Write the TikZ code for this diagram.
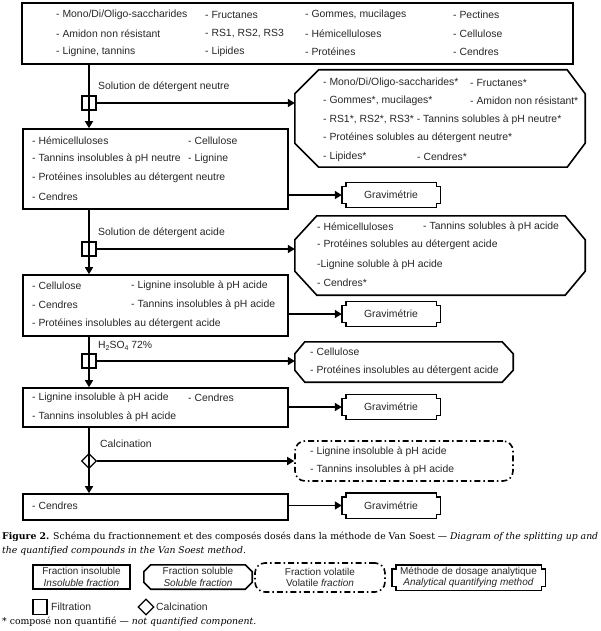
\documentclass[tikz,border=0pt]{standalone}
\usepackage{fontspec}
\setmainfont{Liberation Sans}
\newfontfamily\capfont{DejaVu Serif}
\usetikzlibrary{shapes.geometric,arrows.meta,calc}
\newcommand\octpath[4]{%
 \draw[line width=1.6pt] ([xshift=#2]#1.north west) -- ([xshift=-#3]#1.north east) -- ([yshift=-#4]#1.north east) -- ([yshift=#4]#1.south east) -- ([xshift=-#3]#1.south east) -- ([xshift=#2]#1.south west) -- ([yshift=#4]#1.south west) -- ([yshift=-#4]#1.north west) -- cycle;}
\newcommand\notchpath[1]{%
 \draw[line width=1.4pt] ([xshift=4pt]#1.north west) -- ([xshift=-4pt]#1.north east) -- ([shift={(-4pt,-4pt)}]#1.north east) -- ([yshift=-4pt]#1.north east) -- ([yshift=4pt]#1.south east) -- ([shift={(-4pt,4pt)}]#1.south east) -- ([xshift=-4pt]#1.south east) -- ([xshift=4pt]#1.south west) -- ([shift={(4pt,4pt)}]#1.south west) -- ([yshift=4pt]#1.south west) -- ([yshift=-4pt]#1.north west) -- ([shift={(4pt,-4pt)}]#1.north west) -- cycle;}
\tikzset{
 tx/.style={anchor=west, inner sep=0pt, text=black!85, font=\fontsize{10.4}{12}\selectfont},
 frac/.style={draw, line width=1.6pt, rectangle, inner sep=0pt},
 ghost/.style={rectangle, inner sep=0pt, draw=none},
 grav/.style={ghost, minimum width=98pt, minimum height=25pt, text=black!85, font=\fontsize{10.4}{12}\selectfont},
 arr/.style={line width=1.6pt, -{Triangle[length=7pt,width=8pt]}},
 filt/.style={draw, line width=1.2pt, rectangle, minimum width=14pt, minimum height=14pt, inner sep=0pt},
 calcin/.style={draw, diamond, line width=1.2pt, minimum width=15pt, minimum height=15pt, inner sep=0pt},
 volat/.style={draw, line width=1.6pt, rounded corners=10pt, dash pattern=on 6pt off 3pt on 1.5pt off 3pt, inner sep=0pt},
 leg/.style={align=center, text=black!85, font=\fontsize{10}{11.5}\selectfont},
 captxt/.style={anchor=west, inner sep=0pt, font=\capfont\fontsize{9.3}{11}\selectfont},
}
\begin{document}
\begin{tikzpicture}[x=1pt,y=-1pt]
\useasboundingbox (0,0) rectangle (600,631);
% main boxes
\node[frac, minimum width=551pt, minimum height=61pt] (b0) at (297.5,33.5) {};
\node[frac, minimum width=265pt, minimum height=80pt] (b1) at (155.5,169) {};
\node[frac, minimum width=265pt, minimum height=61pt] (b2) at (155.5,305.5) {};
\node[frac, minimum width=265pt, minimum height=39pt] (b3) at (155.5,407.5) {};
\node[frac, minimum width=265pt, minimum height=26pt] (b4) at (155.5,507) {};
% top box text
\node[tx] (t01) at (56,15) {- Mono/Di/Oligo-saccharides};
\node[tx] (t02) at (205,15) {- Fructanes};
\node[tx] (t03) at (305,15) {- Gommes, mucilages};
\node[tx] (t04) at (453,15) {- Pectines};
\node[tx] (t05) at (56,34) {- Amidon non résistant};
\node[tx] (t06) at (205,34) {- RS1, RS2, RS3};
\node[tx] (t07) at (305,34) {- Hémicelluloses};
\node[tx] (t08) at (453,34) {- Cellulose};
\node[tx] (t09) at (56,52) {- Lignine, tannins};
\node[tx] (t10) at (205,52) {- Lipides};
\node[tx] (t11) at (305,52) {- Protéines};
\node[tx] (t12) at (453,52) {- Cendres};
% box 1 text
\node[tx] (t13) at (32,141) {- Hémicelluloses};
\node[tx] (t14) at (188,141) {- Cellulose};
\node[tx] (t15) at (32,159) {- Tannins insolubles à pH neutre};
\node[tx] (t16) at (188,159) {- Lignine};
\node[tx] (t17) at (32,178) {- Protéines insolubles au détergent neutre};
\node[tx] (t18) at (32,197) {- Cendres};
% box 2 text
\node[tx] (t19) at (32,286) {- Cellulose};
\node[tx] (t20) at (131,286) {- Lignine insoluble à pH acide};
\node[tx] (t21) at (32,305) {- Cendres};
\node[tx] (t22) at (131,305) {- Tannins insolubles à pH acide};
\node[tx] (t23) at (32,324) {- Protéines insolubles au détergent acide};
% box 3 text
\node[tx] (t24) at (32,398) {- Lignine insoluble à pH acide};
\node[tx] (t25) at (188,398) {- Cendres};
\node[tx] (t26) at (32,417) {- Tannins insolubles à pH acide};
% box 4 text
\node[tx] (t27) at (32,506) {- Cendres};
% octagons
\node[ghost, minimum width=290pt, minimum height=97pt] (o1) at (440,118.5) {};
\octpath{o1}{24pt}{18pt}{24pt}
\node[tx] (t28) at (323,83) {- Mono/Di/Oligo-saccharides*};
\node[tx] (t29) at (470,83) {- Fructanes*};
\node[tx] (t30) at (323,101) {- Gommes*, mucilages*};
\node[tx] (t31) at (470,101) {- Amidon non résistant*};
\node[tx] (t32) at (323,120) {- RS1*, RS2*, RS3* - Tannins solubles à pH neutre*};
\node[tx] (t33) at (323,138) {- Protéines solubles au détergent neutre*};
\node[tx] (t34) at (323,157) {- Lipides*};
\node[tx] (t35) at (417,157) {- Cendres*};
\node[ghost, minimum width=290pt, minimum height=79pt] (o2) at (440,255.5) {};
\octpath{o2}{22pt}{20pt}{24pt}
\node[tx] (t36) at (317,227) {- Hémicelluloses};
\node[tx] (t37) at (423,227) {- Tannins solubles à pH acide};
\node[tx] (t38) at (317,245) {- Protéines solubles au détergent acide};
\node[tx] (t39) at (317,265) {-Lignine soluble à pH acide};
\node[tx] (t40) at (317,283) {- Cendres*};
\node[ghost, minimum width=218pt, minimum height=40pt] (o3) at (404,362) {};
\octpath{o3}{10pt}{11pt}{12pt}
\node[tx] (t41) at (310,352) {- Cellulose};
\node[tx] (t42) at (310,371) {- Protéines insolubles au détergent acide};
\node[volat, minimum width=218pt, minimum height=40pt] (v1) at (404,461) {};
\node[tx] (t43) at (310,452) {- Lignine insoluble à pH acide};
\node[tx] (t44) at (310,470) {- Tannins insolubles à pH acide};
% gravimetrie
\node[grav] (g1) at (391,195) {Gravimétrie}; \notchpath{g1}
\node[grav] (g2) at (391,314) {Gravimétrie}; \notchpath{g2}
\node[grav] (g3) at (391,407) {Gravimétrie}; \notchpath{g3}
\node[grav] (g4) at (391,505.5) {Gravimétrie}; \notchpath{g4}
% separators
\node[filt] (f1) at (89,103) {};
\node[filt] (f2) at (89,249) {};
\node[filt] (f3) at (89,361) {};
\node[calcin] (d1) at (89,461) {};
% labels
\node[tx] (l1) at (98,87) {Solution de détergent neutre};
\node[tx] (l2) at (98,233) {Solution de détergent acide};
\node[tx] (l3) at (98,346) {H\raisebox{-0.35ex}{\fontsize{7}{7}\selectfont 2}SO\raisebox{-0.35ex}{\fontsize{7}{7}\selectfont 4} 72\%};
\node[tx] (l4) at (100,444) {Calcination};
% connectors
\draw[arr] (f1 |- b0.south) -- (f1 |- b1.north);
\draw[arr] (f2 |- b1.south) -- (f2 |- b2.north);
\draw[arr] (f3 |- b2.south) -- (f3 |- b3.north);
\draw[arr] (d1 |- b3.south) -- (d1 |- b4.north);
\draw[arr] (f1.east) -- (f1 -| o1.west);
\draw[arr] (f2.east) -- (f2 -| o2.west);
\draw[arr] (f3.east) -- (f3 -| o3.west);
\draw[arr] (d1.east) -- (d1 -| v1.west);
\draw[arr] (g1 -| b1.east) -- (g1.west);
\draw[arr] (g2 -| b2.east) -- (g2.west);
\draw[arr] (g3 -| b3.east) -- (g3.west);
\draw[arr] (g4 -| b4.east) -- (g4.west);
% caption
\node[captxt] (cap1) at (2,537) {\makebox[596pt][s]{\textbf{Figure 2.} Schéma du fractionnement et des composés dosés dans la méthode de Van Soest — \textit{Diagram of the splitting up and}}};
\node[captxt] (cap2) at (2,551) {\textit{the quantified compounds in the Van Soest method}.};
% legend
\node[frac, leg, minimum width=97pt, minimum height=24pt] (L1) at (81.5,577) {Fraction insoluble\\\textit{Insoluble fraction}};
\node[ghost, leg, minimum width=108pt, minimum height=24pt] (L2) at (198,577) {Fraction soluble\\\textit{Soluble fraction}};
\octpath{L2}{7pt}{7pt}{7pt}
\node[volat, leg, minimum width=130pt, minimum height=29pt] (L3) at (320,577.5) {Fraction volatile\\Volatile \textit{fraction}};
\node[ghost, leg, minimum width=153pt, minimum height=25pt] (L4) at (468.5,577.5) {Méthode de dosage analytique\\\textit{Analytical quantifying method}};
\notchpath{L4}
\node[filt, minimum height=15pt] (LF) at (40,607) {};
\node[tx] (LFt) at (51,607) {Filtration};
\node[calcin, minimum width=16pt, minimum height=16pt] (LD) at (146,607) {};
\node[tx] (LDt) at (156,607) {Calcination};
\node[captxt] (foot) at (2,622) {* composé non quantifié — \textit{not quantified component}.};
\end{tikzpicture}
\end{document}
